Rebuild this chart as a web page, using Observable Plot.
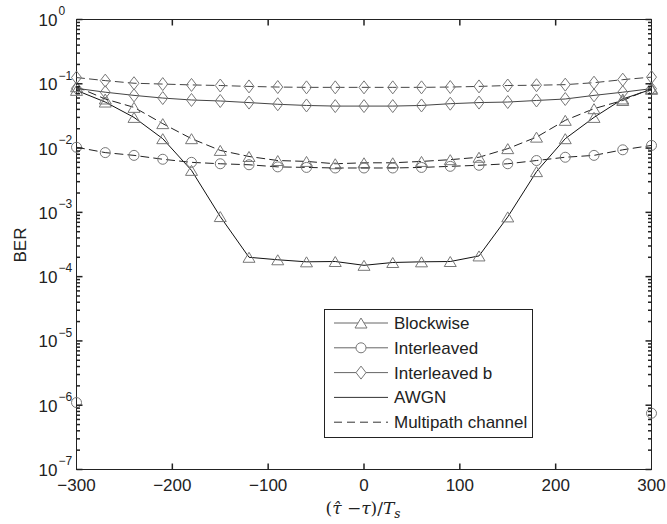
<!DOCTYPE html>
<html><head><meta charset="utf-8">
<script src="https://cdn.jsdelivr.net/npm/d3@7"></script>
<script src="https://cdn.jsdelivr.net/npm/@observablehq/plot@0.6"></script>
<style>
body{margin:0;background:#fff}
svg{font-family:"Liberation Sans",Arial,sans-serif}
</style>
</head><body><div id="chart"></div>
<script>
// ---- data ----
const offsets = [-300,-270,-240,-210,-180,-150,-120,-90,-60,-30,0,30,60,90,120,150,180,210,240,270,300];
const blockwiseAwgn = [0.079,0.052,0.030,0.014,0.0045,0.00086,0.00020,0.000183,0.00017,0.000172,0.00015,0.000166,0.00017,0.000172,0.00021,0.00085,0.0043,0.014,0.030,0.058,0.082];
const blockwiseMulti = [0.09,0.058,0.043,0.024,0.014,0.0092,0.0074,0.0064,0.0062,0.0057,0.0059,0.0059,0.0062,0.0066,0.0072,0.0098,0.0148,0.027,0.041,0.055,0.085];
const interleavedAwgn = [1.1e-6,null,null,null,null,null,null,null,null,null,null,null,null,null,null,null,null,null,null,null,7.5e-7];
const interleavedMulti = [0.0103,0.0085,0.0077,0.0067,0.006,0.0057,0.0055,0.0051,0.005,0.0049,0.0049,0.0049,0.005,0.0052,0.0054,0.0057,0.0064,0.0072,0.0077,0.0094,0.011];
const interleavedBAwgn = [0.085,0.074,0.066,0.060,0.056,0.054,0.051,0.048,0.046,0.045,0.045,0.045,0.046,0.049,0.051,0.052,0.055,0.058,0.066,0.074,0.084];
const interleavedBMulti = [0.125,0.112,0.102,0.099,0.096,0.094,0.091,0.089,0.088,0.088,0.088,0.088,0.088,0.089,0.091,0.094,0.095,0.097,0.104,0.116,0.127];
const xTicks = [-300,-200,-100,0,100,200,300];
const yExponents = [-7,-6,-5,-4,-3,-2,-1,0];
const legendLabels = ["Blockwise","Interleaved","Interleaved b","AWGN","Multipath channel"];

// ---- symbols ----
const triSym = {draw(c){c.moveTo(0,-5);c.lineTo(6,5);c.lineTo(-6,5);c.closePath();}};
const cirSym = {draw(c){c.moveTo(5,0);c.arc(0,0,5,0,2*Math.PI);c.closePath();}};
const diaSym = {draw(c){c.moveTo(0,-6.5);c.lineTo(5,0);c.lineTo(0,6.5);c.lineTo(-5,0);c.closePath();}};
const tickSym = (dx,dy)=>({draw(c){c.moveTo(0,0);c.lineTo(dx,dy);}});

const rows = vals => offsets.map((x,i)=>({x, y: vals[i]}));
const yMajor = yExponents.map(e=>Math.pow(10,e));
const yMinor = [];
for (let e=-7;e<0;e++) for (let k=2;k<=9;k++) yMinor.push(k*Math.pow(10,e));
const xInner = xTicks.slice(1,-1);

const lineC = "#222", markC = "#777", axC = "#222";
const dash = "8,5";

const series = [
  {v: blockwiseAwgn, sym: triSym, dash: null, c: "#111"},
  {v: blockwiseMulti, sym: triSym, dash, c: lineC},
  {v: interleavedAwgn, sym: cirSym, dash: null, c: lineC},
  {v: interleavedMulti, sym: cirSym, dash, c: lineC},
  {v: interleavedBAwgn, sym: diaSym, dash: null, c: "#444"},
  {v: interleavedBMulti, sym: diaSym, dash, c: "#444"},
];

const marks = [Plot.frame({stroke: axC, strokeWidth: 1})];
for (const s of series) {
  const r = rows(s.v);
  marks.push(Plot.line(r, {x:"x", y:"y", stroke: s.c, strokeWidth: 1, strokeDasharray: s.dash || undefined}));
  marks.push(Plot.dot(r, {x:"x", y:"y", symbol: s.sym, r: 5, fill:"none", stroke: markC, strokeWidth: 1}));
}
// inward ticks
marks.push(Plot.dot(yMajor, {x: -300, y: d=>d, symbol: tickSym(6,0), fill:"none", stroke: axC}));
marks.push(Plot.dot(yMajor, {x: 300, y: d=>d, symbol: tickSym(-6,0), fill:"none", stroke: axC}));
marks.push(Plot.dot(yMinor, {x: -300, y: d=>d, symbol: tickSym(3.5,0), fill:"none", stroke: axC}));
marks.push(Plot.dot(yMinor, {x: 300, y: d=>d, symbol: tickSym(-3.5,0), fill:"none", stroke: axC}));
marks.push(Plot.dot(xInner, {x: d=>d, y: 1e-7, symbol: tickSym(0,-6), fill:"none", stroke: axC}));
marks.push(Plot.dot(xInner, {x: d=>d, y: 1, symbol: tickSym(0,6), fill:"none", stroke: axC}));
// y tick labels 10^n
marks.push(Plot.text(yMajor, {x: -300, y: d=>d, text: ()=>"10", textAnchor:"start", dx:-38, dy:1, fontSize:17, fill: axC}));
marks.push(Plot.text(yExponents, {x: -300, y: e=>Math.pow(10,e), text: e=> e<0 ? "\u2212"+(-e) : String(e), textAnchor:"start", dx:-18, dy:-8, fontSize:12, fill: axC}));
// x axis labels
marks.push(Plot.axisX(xTicks, {tickSize:0, tickPadding:9, fontSize:17, label:null, fill: axC}));

const chart = Plot.plot({
  width: 667, height: 524,
  marginLeft: 76, marginRight: 16, marginTop: 19, marginBottom: 55,
  x: {domain: [-300,300], label: null},
  y: {type: "log", domain: [1e-7, 1], axis: null, label: null},
  style: {fontFamily: '"Liberation Sans", Arial, sans-serif', fontSize: "17px", color: "#222", background: "#fff"},
  marks
});
document.getElementById("chart").append(chart);

const svg = d3.select(chart);
// BER label
svg.append("text").attr("transform","translate(26,245) rotate(-90)").attr("text-anchor","middle")
  .attr("font-size",17).attr("fill",axC).text("BER");
// x label
const xl = svg.append("text").attr("x",363).attr("y",514).attr("text-anchor","middle")
  .attr("font-size",17).attr("fill",axC).attr("font-family",'"DejaVu Serif",serif');
xl.append("tspan").text("(");
xl.append("tspan").attr("font-style","italic").text("\u03C4\u0302");
xl.append("tspan").text(" \u2212");
xl.append("tspan").attr("font-style","italic").text("\u03C4");
xl.append("tspan").text(")/");
xl.append("tspan").attr("font-style","italic").text("T");
xl.append("tspan").attr("font-style","italic").attr("font-size",12).attr("dy",4).text("s");

// legend
const lg = svg.append("g");
lg.append("rect").attr("x",324.5).attr("y",309.5).attr("width",208).attr("height",128)
  .attr("fill","#fff").attr("stroke",axC);
const legSyms = [triSym, cirSym, diaSym, null, null];
const legDash = [null,null,null,null,dash];
legendLabels.forEach((lab,i)=>{
  const y = 323 + i*24.8;
  lg.append("line").attr("x1",334).attr("x2",388).attr("y1",y).attr("y2",y)
    .attr("stroke", i<3 ? "#666" : "#333").attr("stroke-dasharray", legDash[i]);
  if (legSyms[i]) lg.append("path").attr("d", d3.symbol(legSyms[i])()).attr("transform",`translate(361,${y})`)
    .attr("fill","#fff").attr("stroke",markC);
  lg.append("text").attr("x",394).attr("y",y).attr("dy","0.35em").attr("text-anchor","start")
    .attr("font-size",17).attr("fill",axC).text(lab);
});
</script></body></html>
